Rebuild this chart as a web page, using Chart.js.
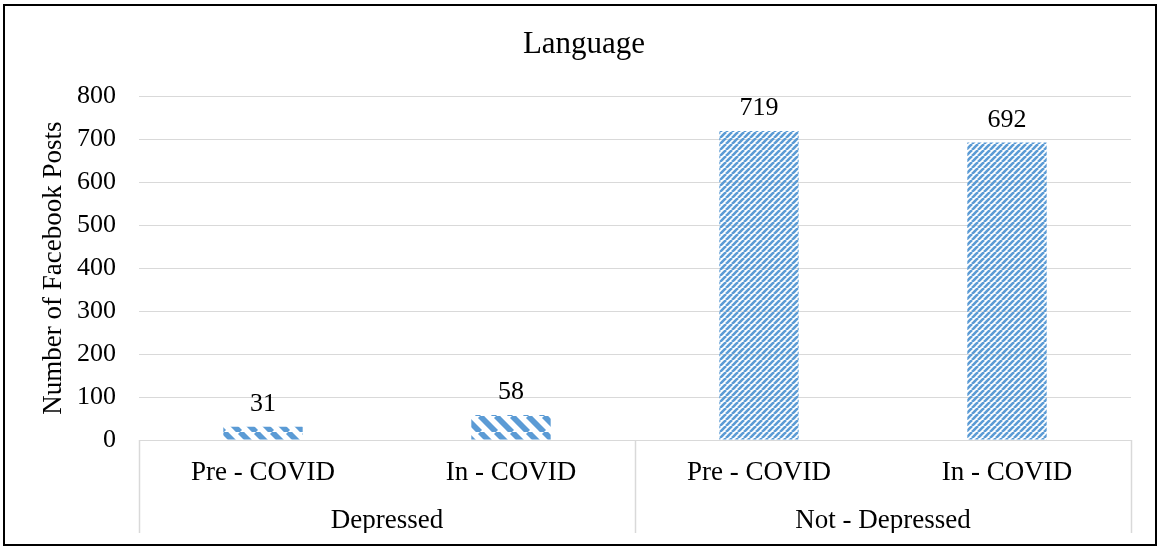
<!DOCTYPE html>
<html>
<head>
<meta charset="utf-8">
<script src="https://cdn.jsdelivr.net/npm/chart.js@4/dist/chart.umd.min.js"></script>
<style>
  html, body { margin: 0; padding: 0; background: #fff; }
  #wrap { width: 1159px; height: 547px; position: relative; }
</style>
</head>
<body>
<div id="wrap"><canvas id="c" width="1159" height="547"></canvas></div>
<script>
// Bar categories (inner level) and their groups (outer level)
const categories = ['Pre - COVID', 'In - COVID', 'Pre - COVID', 'In - COVID'];
const groups = ['Depressed', 'Not - Depressed'];
const postCounts = [31, 58, 719, 692];
const barGroup = [0, 0, 1, 1];
const yTickValues = [0, 100, 200, 300, 400, 500, 600, 700, 800];

const BLUE = '#5B9BD5';
const GRID = '#D9D9D9';
const FONT = 'Liberation Serif';

const canvas = document.getElementById('c');
const ctx = canvas.getContext('2d');

// Diagonal stripe fill: dir 'down' = "\" , 'up' = "/"
function stripePattern(period, width, dir) {
  const t = document.createElement('canvas');
  t.width = period; t.height = period;
  const g = t.getContext('2d');
  g.strokeStyle = BLUE;
  g.lineWidth = width;
  for (const off of [-period, 0, period]) {
    g.beginPath();
    if (dir === 'up') { g.moveTo(off, period); g.lineTo(off + period, 0); }
    else { g.moveTo(off, 0); g.lineTo(off + period, period); }
    g.stroke();
  }
  return ctx.createPattern(t, 'repeat');
}

const groupFills = [stripePattern(16, 5.8, 'down'), stripePattern(6, 2.6, 'up')];
const barFills = barGroup.map(g => groupFills[g]);

// White page with black frame
const framePlugin = {
  id: 'frame',
  beforeDraw(chart) {
    const c = chart.ctx;
    c.save();
    c.fillStyle = '#fff';
    c.fillRect(0, 0, chart.width, chart.height);
    c.strokeStyle = '#000';
    c.lineWidth = 2;
    c.strokeRect(4, 5, chart.width - 7, chart.height - 7);
    c.restore();
  }
};

// Vertical separators between the outer category groups
const groupDividers = {
  id: 'groupDividers',
  afterDraw(chart) {
    const s = chart.scales.x2;
    const c = chart.ctx;
    c.save();
    c.strokeStyle = GRID;
    c.lineWidth = 1.5;
    for (let i = 0; i <= groups.length; i++) {
      const px = Math.round(s.getPixelForDecimal(i / groups.length)) + 0.5;
      c.beginPath();
      c.moveTo(px, chart.chartArea.bottom);
      c.lineTo(px, s.bottom);
      c.stroke();
    }
    c.restore();
  }
};

// Value labels above bars
const valueLabels = {
  id: 'valueLabels',
  afterDatasetsDraw(chart) {
    const c = chart.ctx;
    const meta = chart.getDatasetMeta(0);
    c.save();
    c.fillStyle = '#000';
    c.font = '26px "' + FONT + '"';
    c.textAlign = 'center';
    c.textBaseline = 'alphabetic';
    meta.data.forEach((bar, i) => {
      c.fillText(String(postCounts[i]), bar.x, bar.y - 16);
    });
    c.restore();
  }
};

new Chart(ctx, {
  type: 'bar',
  data: {
    labels: categories,
    datasets: [{
      data: postCounts,
      backgroundColor: barFills,
      borderWidth: 0,
      barPercentage: 0.32,
      categoryPercentage: 1,
      xAxisID: 'x',
      yAxisID: 'y'
    }]
  },
  options: {
    responsive: false,
    devicePixelRatio: 1,
    animation: false,
    layout: { padding: { left: 37, right: 28, top: 0, bottom: 14 } },
    plugins: {
      legend: { display: false },
      tooltip: { enabled: false },
      title: {
        display: true,
        text: 'Language',
        color: '#000',
        font: { family: FONT, size: 31, weight: 'normal', lineHeight: 1.2 },
        padding: { top: 26, bottom: 33 }
      }
    },
    scales: {
      y: {
        min: 0,
        max: 800,
        afterBuildTicks(scale) { scale.ticks = yTickValues.map(v => ({ value: v })); },
        ticks: { color: '#000', font: { family: FONT, size: 26 }, padding: 23 },
        grid: { color: GRID, lineWidth: 1, drawTicks: false },
        border: { display: false },
        title: {
          display: true,
          text: 'Number of Facebook Posts',
          color: '#000',
          font: { family: FONT, size: 27, lineHeight: 1.2 },
          padding: { top: 1, bottom: 0 }
        },
        afterFit(scale) { scale.width = 102; }
      },
      x: {
        type: 'category',
        position: 'bottom',
        grid: { display: false, drawTicks: false },
        border: { display: false },
        ticks: { color: '#000', font: { family: FONT, size: 27 }, padding: 16.5, maxRotation: 0, autoSkip: false },
        afterFit(scale) { scale.height = 44; }
      },
      x2: {
        type: 'category',
        position: 'bottom',
        labels: groups,
        offset: true,
        grid: { display: false, drawTicks: false },
        border: { display: false },
        ticks: { color: '#000', font: { family: FONT, size: 27 }, padding: 20.5, maxRotation: 0, autoSkip: false },
        afterFit(scale) { scale.height = 49; }
      }
    }
  },
  plugins: [framePlugin, groupDividers, valueLabels]
});
</script>
</body>
</html>
